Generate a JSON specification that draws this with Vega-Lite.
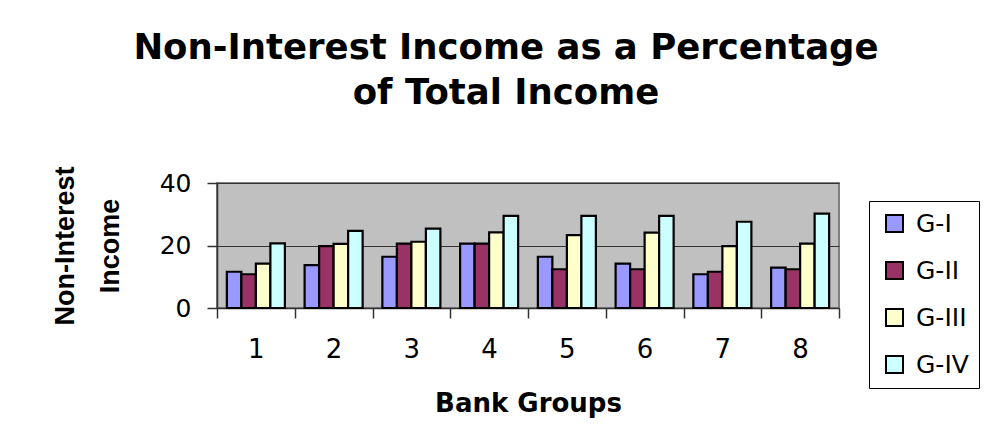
{
  "$schema": "https://vega.github.io/schema/vega-lite/v6.json",
  "autosize": {"type": "none"},
  "width": 622,
  "height": 125,
  "padding": {"left": 217, "top": 183, "right": 148, "bottom": 136},
  "background": "white",
  "title": {
    "text": ["Non-Interest Income as a Percentage", "of Total Income"],
    "font": "DejaVu Sans",
    "fontSize": 35.5,
    "fontWeight": "bold",
    "color": "black",
    "anchor": "middle",
    "lineHeight": 45,
    "offset": 54,
    "dx": -22
  },
  "config": {
    "view": {"fill": "#C0C0C0", "stroke": "#808080", "strokeWidth": 2},
    "axis": {
      "labelFont": "DejaVu Sans",
      "titleFont": "DejaVu Sans",
      "labelColor": "black",
      "titleColor": "black",
      "domainColor": "#333333",
      "tickColor": "#333333",
      "domainWidth": 1.5,
      "tickWidth": 1.5
    },
    "legend": {"labelFont": "DejaVu Sans"}
  },
  "data": {
    "values": [
      {"group": "1", "series": "G-I", "value": 11.6},
      {"group": "1", "series": "G-II", "value": 10.8},
      {"group": "1", "series": "G-III", "value": 14.2},
      {"group": "1", "series": "G-IV", "value": 20.7},
      {"group": "2", "series": "G-I", "value": 13.7},
      {"group": "2", "series": "G-II", "value": 19.8},
      {"group": "2", "series": "G-III", "value": 20.5},
      {"group": "2", "series": "G-IV", "value": 24.7},
      {"group": "3", "series": "G-I", "value": 16.4},
      {"group": "3", "series": "G-II", "value": 20.6},
      {"group": "3", "series": "G-III", "value": 21.2},
      {"group": "3", "series": "G-IV", "value": 25.4},
      {"group": "4", "series": "G-I", "value": 20.6},
      {"group": "4", "series": "G-II", "value": 20.6},
      {"group": "4", "series": "G-III", "value": 24.2},
      {"group": "4", "series": "G-IV", "value": 29.5},
      {"group": "5", "series": "G-I", "value": 16.4},
      {"group": "5", "series": "G-II", "value": 12.4},
      {"group": "5", "series": "G-III", "value": 23.3},
      {"group": "5", "series": "G-IV", "value": 29.5},
      {"group": "6", "series": "G-I", "value": 14.2},
      {"group": "6", "series": "G-II", "value": 12.4},
      {"group": "6", "series": "G-III", "value": 24.1},
      {"group": "6", "series": "G-IV", "value": 29.5},
      {"group": "7", "series": "G-I", "value": 10.8},
      {"group": "7", "series": "G-II", "value": 11.6},
      {"group": "7", "series": "G-III", "value": 19.8},
      {"group": "7", "series": "G-IV", "value": 27.6},
      {"group": "8", "series": "G-I", "value": 12.9},
      {"group": "8", "series": "G-II", "value": 12.4},
      {"group": "8", "series": "G-III", "value": 20.6},
      {"group": "8", "series": "G-IV", "value": 30.2}
    ]
  },
  "mark": {"type": "bar", "stroke": "black", "strokeWidth": 2.2},
  "encoding": {
    "x": {
      "field": "group",
      "type": "nominal",
      "scale": {"paddingInner": 0, "paddingOuter": 0},
      "axis": {
        "title": "Bank Groups",
        "titleFontSize": 26,
        "titleFontWeight": "bold",
        "titlePadding": 28,
        "labelAngle": 0,
        "labelFontSize": 26,
        "labelPadding": 18,
        "tickSize": 10,
        "tickBand": "extent",
        "grid": false
      }
    },
    "xOffset": {
      "field": "series",
      "type": "nominal",
      "sort": ["G-I", "G-II", "G-III", "G-IV"],
      "scale": {"paddingInner": 0, "paddingOuter": 0.68}
    },
    "y": {
      "field": "value",
      "type": "quantitative",
      "scale": {"domain": [0, 40], "nice": false},
      "axis": {
        "values": [0, 20, 40],
        "title": ["Non-Interest", "Income"],
        "titleFont": "Liberation Sans",
        "titleFontSize": 27,
        "titleFontWeight": "bold",
        "titleLineHeight": 45,
        "titleBaseline": "top",
        "titleX": -165,
        "labelFontSize": 25,
        "labelPadding": 16,
        "tickSize": 10,
        "grid": true,
        "gridColor": "#333333",
        "gridWidth": 1
      }
    },
    "color": {
      "field": "series",
      "type": "nominal",
      "sort": ["G-I", "G-II", "G-III", "G-IV"],
      "scale": {
        "domain": ["G-I", "G-II", "G-III", "G-IV"],
        "range": ["#9999FF", "#993366", "#FFFFCC", "#CCFFFF"]
      },
      "legend": {
        "title": null,
        "orient": "none",
        "legendX": 652,
        "legendY": 18,
        "symbolType": "square",
        "symbolSize": 289,
        "symbolStrokeColor": "black",
        "symbolStrokeWidth": 2,
        "symbolOpacity": 1,
        "symbolOffset": 3,
        "labelFontSize": 25,
        "labelColor": "black",
        "labelOffset": 9,
        "rowPadding": 21,
        "padding": 10,
        "strokeColor": "black",
        "fillColor": "white"
      }
    }
  }
}
